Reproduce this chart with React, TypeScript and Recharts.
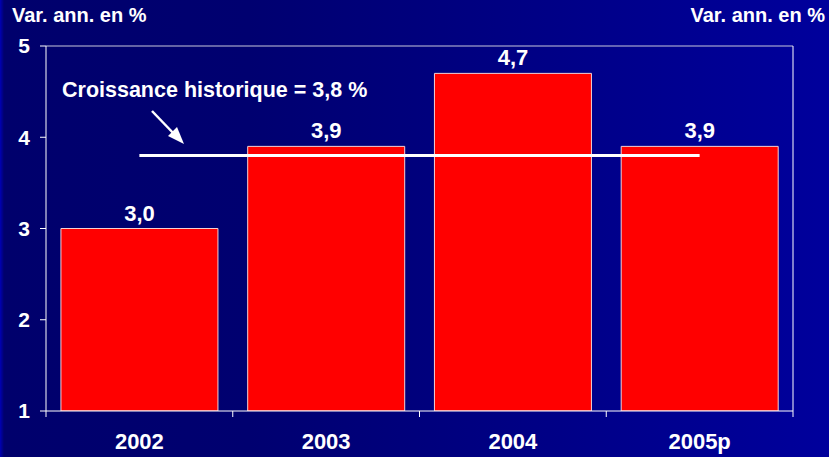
import React from 'react';
import {
  Bar,
  ComposedChart,
  LabelList,
  Line,
  ReferenceLine,
  XAxis,
  YAxis,
} from 'recharts';

const years = ['2002', '2003', '2004', '2005p'];
const growth = [3.0, 3.9, 4.7, 3.9];
const historic = [3.8, 3.8, 3.8, 3.8];
const yTicks = [1, 2, 3, 4, 5];

const W = 829;
const H = 457;
const LEFT = 46;
const RIGHT = 36;
const BAND = (W - LEFT - RIGHT) / years.length;
const FONT = '"Liberation Sans", Arial, sans-serif';

const data = years.map((year, i) => ({
  year,
  growth: growth[i],
  historic: historic[i],
}));

const fmt = (v: number) => v.toFixed(1).replace('.', ',');

function YearTick(props: any) {
  const { x, y, payload, index } = props;
  const axisY = y - 6;
  return (
    <g>
      <line x1={x - BAND / 2} y1={axisY} x2={x - BAND / 2} y2={axisY + 6} stroke="#fff" />
      {index === years.length - 1 && (
        <line x1={x + BAND / 2} y1={axisY} x2={x + BAND / 2} y2={axisY + 6} stroke="#fff" />
      )}
      <text
        x={x}
        y={axisY + 38}
        textAnchor="middle"
        fill="#fff"
        fontSize={22}
        fontWeight="bold"
        fontFamily={FONT}
      >
        {payload.value}
      </text>
    </g>
  );
}

export default function App() {
  return (
    <div
      style={{
        position: 'absolute',
        left: 0,
        top: 0,
        width: W,
        height: H,
        fontFamily: FONT,
        background:
          'linear-gradient(90deg, #0000b4 0px, #00006c 4px, #000070 30%, #000082 60%, #00009c 100%)',
      }}
    >
      <div style={{ position: 'absolute', left: 12, top: 4, color: '#fff', fontSize: 20, fontWeight: 'bold' }}>
        Var. ann. en %
      </div>
      <div style={{ position: 'absolute', right: 4, top: 4, color: '#fff', fontSize: 20, fontWeight: 'bold' }}>
        Var. ann. en %
      </div>
      <div
        style={{
          position: 'absolute',
          left: 62,
          top: 78,
          color: '#fff',
          fontSize: 21.5,
          fontWeight: 'bold',
          whiteSpace: 'nowrap',
        }}
      >
        Croissance historique = 3,8 %
      </div>
      <svg style={{ position: 'absolute', left: 0, top: 0 }} width={W} height={H}>
        <line x1={152} y1={111} x2={176} y2={136} stroke="#fff" strokeWidth={2.5} />
        <polygon points="184,144 168,136 177,127" fill="#fff" />
      </svg>
      <ComposedChart
        width={W}
        height={H}
        data={data}
        margin={{ top: 46, right: 0, bottom: 0, left: 0 }}
        barCategoryGap="8%"
        style={{ position: 'absolute', left: 0, top: 0 }}
      >
        <XAxis
          dataKey="year"
          height={46}
          stroke="#fff"
          tickLine={false}
          tickSize={6}
          tickMargin={0}
          tick={<YearTick />}
          interval={0}
        />
        <YAxis
          yAxisId="left"
          domain={[1, 5]}
          ticks={yTicks}
          width={LEFT}
          stroke="#fff"
          tickSize={6}
          tickMargin={10}
          tick={{ fill: '#fff', fontSize: 21, fontWeight: 'bold', fontFamily: FONT }}
          allowDataOverflow
        />
        <YAxis
          yAxisId="right"
          orientation="right"
          domain={[1, 5]}
          ticks={yTicks}
          width={RIGHT}
          stroke="#fff"
          tickSize={7}
          tickMargin={9}
          tick={{ fill: '#fff', fontSize: 21, fontWeight: 'bold', fontFamily: FONT, textAnchor: 'start' }}
        />
        <ReferenceLine yAxisId="left" y={5} stroke="#c8c8dc" strokeWidth={1} />
        <Bar
          yAxisId="left"
          dataKey="growth"
          fill="#ff0000"
          stroke="#f4d0d4"
          strokeWidth={1}
          isAnimationActive={false}
        >
          <LabelList
            dataKey="growth"
            position="top"
            offset={8}
            formatter={(v: any) => fmt(Number(v))}
            fill="#fff"
            fontSize={22}
            fontWeight="bold"
            fontFamily={FONT}
          />
        </Bar>
        <Line
          yAxisId="left"
          dataKey="historic"
          stroke="#fff"
          strokeWidth={3}
          dot={false}
          activeDot={false}
          isAnimationActive={false}
        />
      </ComposedChart>
    </div>
  );
}
